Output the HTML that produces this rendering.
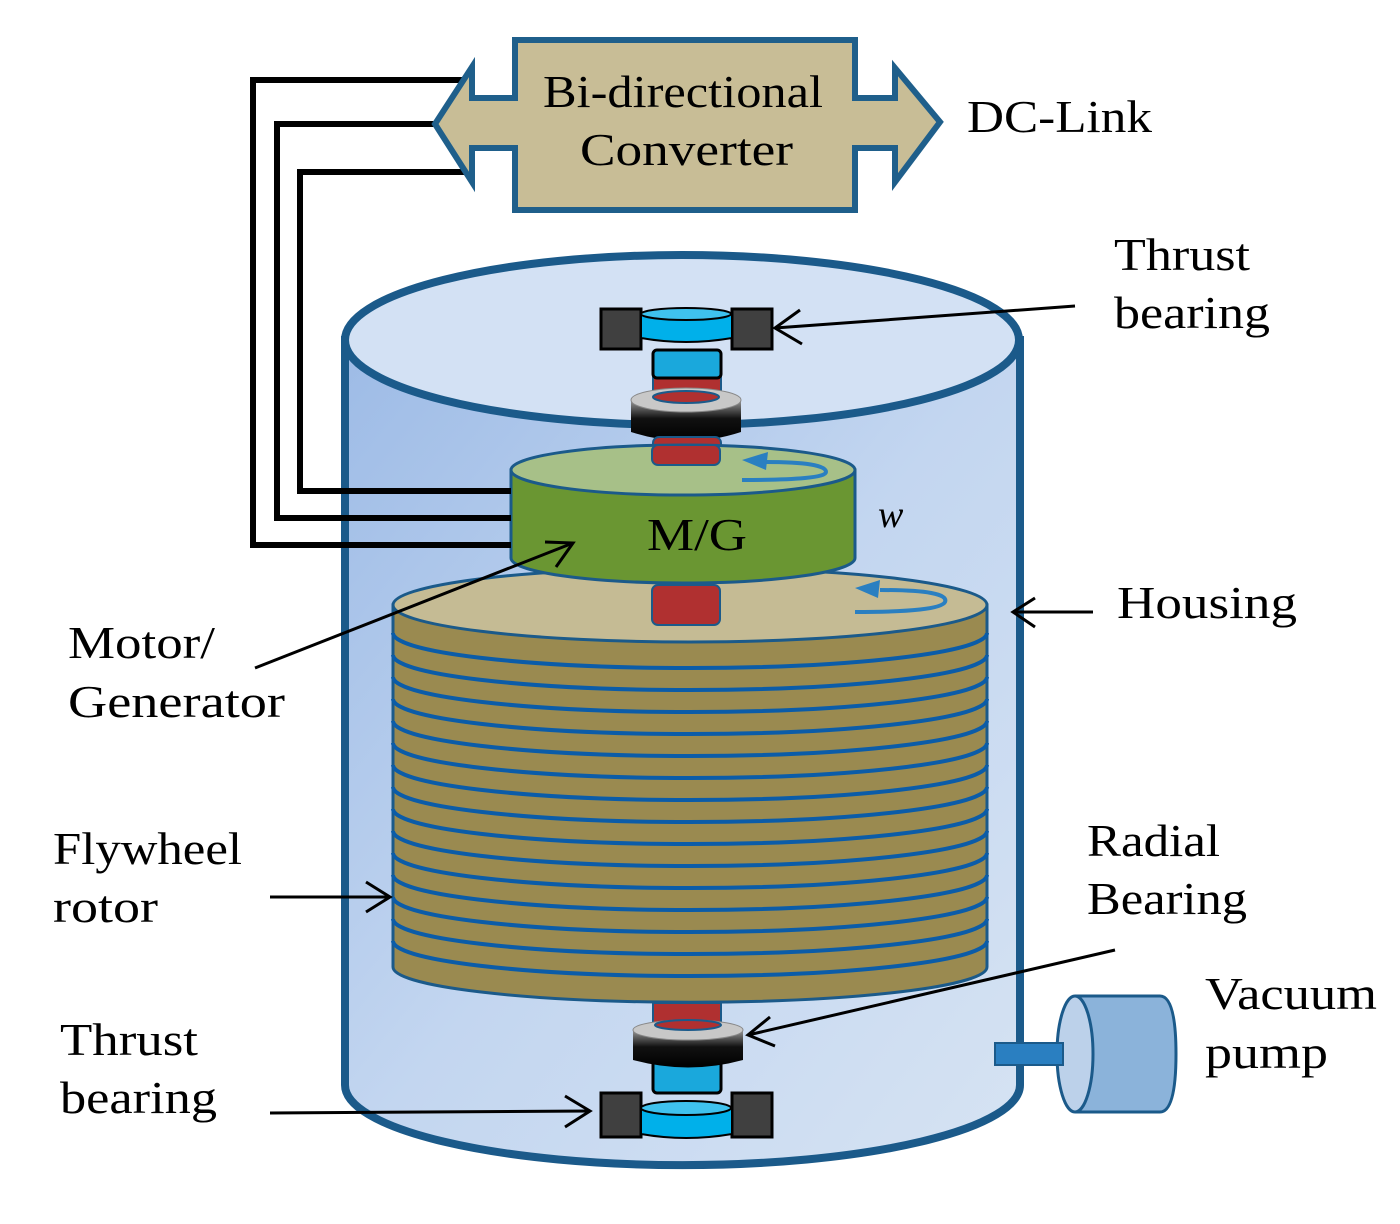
<!DOCTYPE html>
<html><head><style>body{margin:0;background:#fff}svg{display:block}text{font-family:"Liberation Serif",serif;fill:#000}</style></head>
<body>
<svg width="1400" height="1224" viewBox="0 0 1400 1224" xmlns="http://www.w3.org/2000/svg">
<defs>
<linearGradient id="hg" x1="0" y1="0" x2="1" y2="1"><stop offset="0" stop-color="#9dbbe6"/><stop offset="0.5" stop-color="#c3d6f0"/><stop offset="1" stop-color="#d6e3f3"/></linearGradient>
<linearGradient id="bk" x1="0" y1="0" x2="0" y2="1"><stop offset="0" stop-color="#999"/><stop offset="0.45" stop-color="#111"/><stop offset="1" stop-color="#000"/></linearGradient>
</defs>
<path d="M345,340 L345,1085 A337,80 0 0 0 1020,1085 L1020,340 Z" fill="url(#hg)" stroke="#1b5a8a" stroke-width="8"/>
<ellipse cx="682" cy="340" rx="337" ry="85" fill="#d3e1f4" stroke="#1b5a8a" stroke-width="8"/>
<rect x="995" y="1043" width="72" height="22" fill="#2a7fc1" stroke="#1b5a8a" stroke-width="2"/>
<path d="M1075,996 L1160,996 Q1176,996 1176,1054 Q1176,1112 1160,1112 L1075,1112" fill="#8bb3da" stroke="#1b5a8a" stroke-width="3"/>
<ellipse cx="1075" cy="1054" rx="18" ry="58" fill="#bcd1ea" stroke="#1b5a8a" stroke-width="3"/>
<rect x="995" y="1043" width="68" height="22" fill="#2a7fc1" stroke="#1b5a8a" stroke-width="2"/>
<rect x="601" y="309" width="40" height="40" fill="#404040" stroke="#000" stroke-width="3"/>
<rect x="732" y="309" width="40" height="40" fill="#404040" stroke="#000" stroke-width="3"/>
<path d="M641,314 L732,314 L732,338 Q686,346 641,338 Z" fill="#00b0ea" stroke="#000" stroke-width="2"/>
<ellipse cx="686" cy="314" rx="45" ry="6" fill="#3fc2ee" stroke="#000" stroke-width="2"/>
<rect x="653" y="375" width="68" height="30" fill="#b03030" stroke="#1b5a8a" stroke-width="2"/>
<rect x="653" y="350" width="68" height="28" rx="4" fill="#1aa8dc" stroke="#000" stroke-width="3"/>
<path d="M631,400 L741,400 L741,432 Q686,450 631,432 Z" fill="url(#bk)"/>
<ellipse cx="686" cy="400" rx="55" ry="12" fill="#c8c8c8" stroke="#888" stroke-width="1"/>
<ellipse cx="686" cy="397" rx="33" ry="6" fill="#b03030" stroke="#1b5a8a" stroke-width="2"/>
<rect x="653" y="437" width="68" height="28" rx="6" fill="#b03030" stroke="#1b5a8a" stroke-width="2"/>
<path d="M393,605 L393,967 A295,35 0 0 0 987,967 L987,605 Z" fill="#9a8a50" stroke="#1b5a8a" stroke-width="3"/>
<g fill="none" stroke="#0b5ca8" stroke-width="4">
<path d="M393,633 A297,35 0 0 0 987,633"/><path d="M393,655 A297,35 0 0 0 987,655"/><path d="M393,677 A297,35 0 0 0 987,677"/><path d="M393,699 A297,35 0 0 0 987,699"/><path d="M393,721 A297,35 0 0 0 987,721"/><path d="M393,743 A297,35 0 0 0 987,743"/><path d="M393,765 A297,35 0 0 0 987,765"/><path d="M393,787 A297,35 0 0 0 987,787"/><path d="M393,809 A297,35 0 0 0 987,809"/><path d="M393,831 A297,35 0 0 0 987,831"/><path d="M393,853 A297,35 0 0 0 987,853"/><path d="M393,875 A297,35 0 0 0 987,875"/><path d="M393,897 A297,35 0 0 0 987,897"/><path d="M393,919 A297,35 0 0 0 987,919"/><path d="M393,941 A297,35 0 0 0 987,941"/>
</g>
<ellipse cx="690" cy="605" rx="297" ry="37" fill="#c5bb94" stroke="#1b5a8a" stroke-width="3"/>
<path d="M880,590 Q950,590 945,602 Q940,612 855,612" fill="none" stroke="#2a7fc1" stroke-width="4"/>
<path d="M855,588 L880,580 L878,598 Z" fill="#2a7fc1"/>
<rect x="652" y="585" width="68" height="40" rx="6" fill="#b03030" stroke="#1b5a8a" stroke-width="2"/>
<path d="M511,470 L511,558 A172,25 0 0 0 855,558 L855,470 Z" fill="#6a9632" stroke="#1b5a8a" stroke-width="3"/>
<ellipse cx="683" cy="470" rx="172" ry="25" fill="#a7c088" stroke="#1b5a8a" stroke-width="3"/>
<rect x="652" y="445" width="68" height="20" rx="6" fill="#b03030" stroke="#1b5a8a" stroke-width="2"/>
<path d="M765,462 Q826,462 826,472 Q826,480 742,480" fill="none" stroke="#2a7fc1" stroke-width="4"/>
<path d="M742,460 L768,452 L766,470 Z" fill="#2a7fc1"/>
<text x="647" y="550" font-size="46" textLength="100" lengthAdjust="spacingAndGlyphs">M/G</text>
<rect x="653" y="1003" width="68" height="30" fill="#b03030" stroke="#1b5a8a" stroke-width="2"/>
<rect x="653" y="1060" width="68" height="33" rx="4" fill="#1aa8dc" stroke="#000" stroke-width="3"/>
<path d="M633,1030 L743,1030 L743,1060 Q688,1075 633,1060 Z" fill="url(#bk)"/>
<ellipse cx="688" cy="1030" rx="55" ry="10" fill="#c8c8c8" stroke="#888"/>
<ellipse cx="688" cy="1025" rx="33" ry="5" fill="#b03030" stroke="#1b5a8a" stroke-width="2"/>
<rect x="601" y="1093" width="40" height="44" fill="#404040" stroke="#000" stroke-width="3"/>
<rect x="732" y="1093" width="40" height="44" fill="#404040" stroke="#000" stroke-width="3"/>
<path d="M641,1108 L732,1108 L732,1134 Q686,1142 641,1134 Z" fill="#00b0ea" stroke="#000" stroke-width="2"/>
<ellipse cx="686" cy="1108" rx="45" ry="7" fill="#3fc2ee" stroke="#000" stroke-width="2"/>
<g fill="none" stroke="#000" stroke-width="6">
<path d="M472,80 L253,80 L253,545 L511,545"/>
<path d="M437,124 L277,124 L277,518 L511,518"/>
<path d="M470,172 L300,172 L300,491 L511,491"/>
</g>
<path d="M515,40 L855,40 L855,98 L895,98 L895,68 L940,122 L895,182 L895,148 L855,148 L855,210 L515,210 L515,148 L472,148 L472,182 L435,124 L472,67 L472,98 L515,98 Z" fill="#c8bd96" stroke="#1f5f8b" stroke-width="6"/>
<g font-size="46" lengthAdjust="spacingAndGlyphs">
<text x="543" y="107" textLength="280" lengthAdjust="spacingAndGlyphs">Bi-directional</text>
<text x="580" y="165" textLength="213" lengthAdjust="spacingAndGlyphs">Converter</text>
</g>
<g stroke="#000" stroke-width="3" fill="none">
<path d="M1075,306 L775,328"/><path d="M800,310 L775,328 L802,344"/>
<path d="M255,668 L573,543"/><path d="M545,542 L573,543 L556,567"/>
<path d="M270,897 L390,897"/><path d="M366,882 L390,897 L366,912"/>
<path d="M1093,612 L1013,612"/><path d="M1035,598 L1013,612 L1035,627"/>
<path d="M1115,950 L748,1035"/><path d="M770,1017 L748,1035 L775,1046"/>
<path d="M270,1113 L590,1111"/><path d="M565,1096 L590,1111 L565,1127"/>
</g>
<g font-size="46">
<text x="967" y="132" textLength="185" lengthAdjust="spacingAndGlyphs">DC-Link</text>
<text x="1114" y="270" textLength="136" lengthAdjust="spacingAndGlyphs">Thrust</text>
<text x="1114" y="328" textLength="156" lengthAdjust="spacingAndGlyphs">bearing</text>
<text x="1117" y="618" textLength="180" lengthAdjust="spacingAndGlyphs">Housing</text>
<text x="68" y="658" textLength="147" lengthAdjust="spacingAndGlyphs">Motor/</text>
<text x="68" y="717" textLength="217" lengthAdjust="spacingAndGlyphs">Generator</text>
<text x="53" y="864" textLength="189" lengthAdjust="spacingAndGlyphs">Flywheel</text>
<text x="53" y="922" textLength="105" lengthAdjust="spacingAndGlyphs">rotor</text>
<text x="1087" y="856" textLength="133" lengthAdjust="spacingAndGlyphs">Radial</text>
<text x="1087" y="914" textLength="160" lengthAdjust="spacingAndGlyphs">Bearing</text>
<text x="1205" y="1009" textLength="172" lengthAdjust="spacingAndGlyphs">Vacuum</text>
<text x="1205" y="1068" textLength="123" lengthAdjust="spacingAndGlyphs">pump</text>
<text x="60" y="1055" textLength="138" lengthAdjust="spacingAndGlyphs">Thrust</text>
<text x="60" y="1113" textLength="157" lengthAdjust="spacingAndGlyphs">bearing</text>
</g>
<text x="878" y="527" font-size="38" font-style="italic">w</text>
</svg>
</body></html>
